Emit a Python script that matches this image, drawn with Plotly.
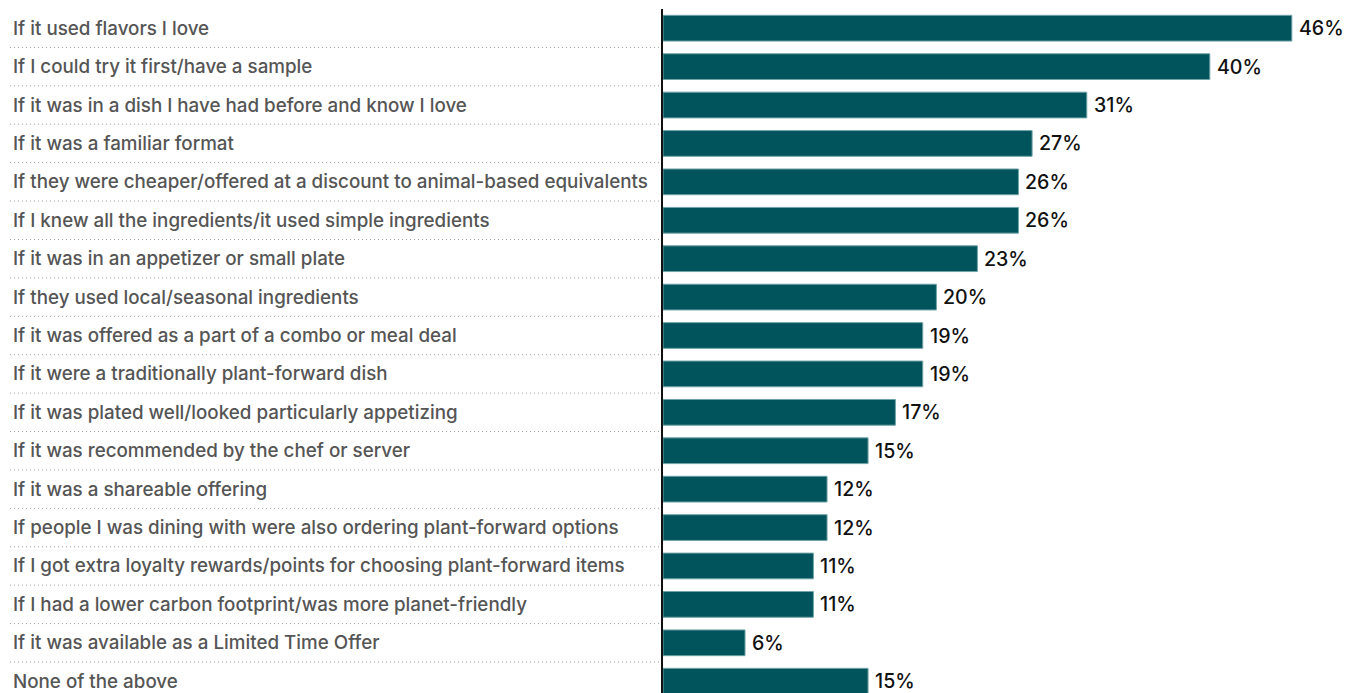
import plotly.graph_objects as go

categories = [
    "If it used flavors I love",
    "If I could try it first/have a sample",
    "If it was in a dish I have had before and know I love",
    "If it was a familiar format",
    "If they were cheaper/offered at a discount to animal-based equivalents",
    "If I knew all the ingredients/it used simple ingredients",
    "If it was in an appetizer or small plate",
    "If they used local/seasonal ingredients",
    "If it was offered as a part of a combo or meal deal",
    "If it were a traditionally plant-forward dish",
    "If it was plated well/looked particularly appetizing",
    "If it was recommended by the chef or server",
    "If it was a shareable offering",
    "If people I was dining with were also ordering plant-forward options",
    "If I got extra loyalty rewards/points for choosing plant-forward items",
    "If I had a lower carbon footprint/was more planet-friendly",
    "If it was available as a Limited Time Offer",
    "None of the above",
]
values = [46, 40, 31, 27, 26, 26, 23, 20, 19, 19, 17, 15, 12, 12, 11, 11, 6, 15]
value_labels = [f"{v}%" for v in values]

W, H = 1355, 693
split = 663 / W
ypos = list(range(len(categories)))

FONT = "Inter"
BAR = "#02545c"

fig = go.Figure()
fig.add_trace(go.Bar(
    x=values, y=ypos, orientation="h", width=0.67,
    marker=dict(color=BAR, line=dict(color="#6fa3a7", width=1)),
    hoverinfo="skip", xaxis="x", yaxis="y",
))

# dotted separators in label area
sx, sy = [], []
for i in range(len(categories) - 1):
    sx += [10, 660, None]
    sy += [i + 0.5, i + 0.5, None]
fig.add_trace(go.Scatter(
    x=sx, y=sy, mode="lines", xaxis="x2", yaxis="y",
    line=dict(color="#a0a0a0", width=1, dash="1px,3px"), hoverinfo="skip",
))

annotations = []
for i, c in enumerate(categories):
    annotations.append(dict(
        x=11, y=i, xref="x2", yref="y", text=c, showarrow=False,
        xanchor="left", yanchor="middle",
        font=dict(family=FONT, size=18.8, color="#555555", weight=500),
    ))
for i, (v, t) in enumerate(zip(values, value_labels)):
    annotations.append(dict(
        x=v, y=i, xref="x", yref="y", text=t, showarrow=False,
        xanchor="left", yanchor="middle", xshift=5,
        font=dict(family=FONT, size=19.6, color="#111111", weight=500),
    ))

fig.update_layout(
    width=W, height=H,
    margin=dict(l=0, r=0, t=8.6, b=0),
    paper_bgcolor="white", plot_bgcolor="white",
    showlegend=False,
    xaxis=dict(domain=[split, 1], range=[0, 50.62], visible=False, fixedrange=True),
    xaxis2=dict(domain=[0, split], range=[0, 663], visible=False, anchor="y", fixedrange=True),
    yaxis=dict(range=[17.307, -0.5], showticklabels=False, ticks="", showgrid=False,
               zeroline=False, showline=True, linecolor="#111111", linewidth=2,
               anchor="x", fixedrange=True),
    annotations=annotations,
)

fig.write_html("out.html")
